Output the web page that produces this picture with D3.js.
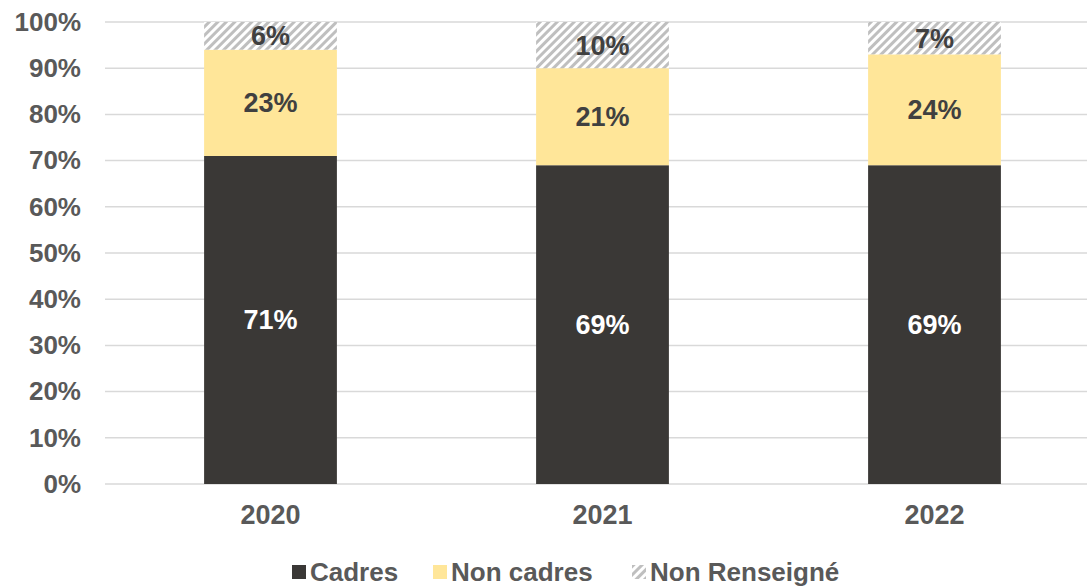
<!DOCTYPE html>
<html><head><meta charset="utf-8">
<script src="https://cdn.jsdelivr.net/npm/d3@7"></script>
<style>body{margin:0;background:#fff;}svg{display:block;font-family:"Liberation Sans",Arial,sans-serif;font-weight:bold;}</style>
</head><body>
<svg id="c" width="1087" height="586"></svg>
<script>
const years = ["2020","2021","2022"];
const cadres = [71,69,69];
const nonCadres = [23,21,24];
const nonRenseigne = [6,10,7];
const yTicks = [0,10,20,30,40,50,60,70,80,90,100];
const seriesNames = ["Cadres","Non cadres","Non Renseigné"];

const svg = d3.select("#c");
const defs = svg.append("defs");
const pat = defs.append("pattern").attr("id","hatch").attr("patternUnits","userSpaceOnUse")
  .attr("width",6).attr("height",6).attr("patternTransform","rotate(45)");
pat.append("rect").attr("width",6).attr("height",6).attr("fill","#fff");
pat.append("rect").attr("x",0).attr("y",0).attr("width",3).attr("height",6).attr("fill","#bfbfbf");

const x = d3.scaleBand().domain(years).range([104.5,1100.5]).paddingInner(0.6).paddingOuter(0.3);
const y = d3.scaleLinear().domain([0,100]).range([484,22]);

// gridlines
svg.append("g").selectAll("line").data(yTicks).join("line")
  .attr("x1",105).attr("x2",1087).attr("y1",d=>y(d)).attr("y2",d=>y(d))
  .attr("stroke","#d9d9d9").attr("stroke-width",1.5);

// y axis labels
const yAxis = d3.axisLeft(y).tickValues(yTicks).tickFormat(d=>d+"%").tickSize(0).tickPadding(0);
const ga = svg.append("g").attr("transform","translate(81,0)").call(yAxis);
ga.select(".domain").remove();
ga.selectAll("text").attr("fill","#595959").attr("font-size",26).attr("font-weight","bold")
  .attr("font-family","'Liberation Sans',Arial,sans-serif");

// x axis labels
const xAxis = d3.axisBottom(x).tickSize(0).tickPadding(0);
const gx = svg.append("g").attr("transform","translate(0,505)").call(xAxis);
gx.select(".domain").remove();
gx.selectAll("text").attr("fill","#595959").attr("font-size",27).attr("font-weight","bold")
  .attr("font-family","'Liberation Sans',Arial,sans-serif");

const data = years.map((yr,i)=>({year:yr, Cadres:cadres[i], "Non cadres":nonCadres[i], "Non Renseigné":nonRenseigne[i]}));
const stack = d3.stack().keys(seriesNames)(data);
const fills = {"Cadres":"#3a3836","Non cadres":"#ffe699","Non Renseigné":"url(#hatch)"};
const labelCol = {"Cadres":"#ffffff","Non cadres":"#404040","Non Renseigné":"#404040"};

stack.forEach(s=>{
  const g = svg.append("g");
  g.selectAll("rect").data(s).join("rect")
    .attr("x",d=>x(d.data.year)).attr("width",x.bandwidth())
    .attr("y",d=>y(d[1])).attr("height",d=>y(d[0])-y(d[1]))
    .attr("fill",fills[s.key]);
  g.selectAll("text").data(s).join("text")
    .attr("x",d=>x(d.data.year)+x.bandwidth()/2)
    .attr("y",d=>y((d[0]+d[1])/2)).attr("dy","0.35em")
    .attr("text-anchor","middle").attr("font-size",27)
    .attr("fill",labelCol[s.key]).text(d=>(d[1]-d[0])+"%");
});

// legend
const legX = [292,433,632];
const lg = svg.append("g");
seriesNames.forEach((n,i)=>{
  lg.append("rect").attr("x",legX[i]).attr("y",565).attr("width",14).attr("height",14).attr("fill",fills[n]);
  lg.append("text").attr("x",legX[i]+18).attr("y",581).attr("font-size",26).attr("fill","#595959").text(n);
});
</script>
</body></html>
